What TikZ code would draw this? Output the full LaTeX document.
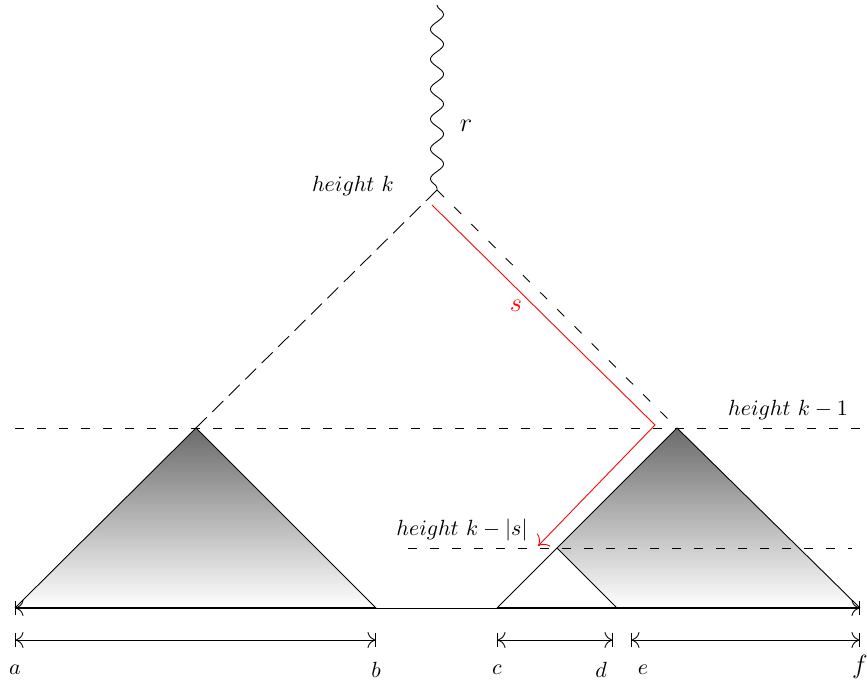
\documentclass[tikz,border=0pt]{standalone}
\usepackage{amsmath,amssymb}
\usepackage{xcolor}
\usepackage{tikz}
\usetikzlibrary{arrows.meta,positioning,decorations.pathmorphing}
\tikzset{
  lbl/.style={inner sep=1pt, font=\normalsize},
  big/.style={inner sep=1pt, font=\large},
  lvl/.style={dash pattern=on 4pt off 6pt},
  longdash/.style={dash pattern=on 7pt off 3.5pt},
  shortdash/.style={dash pattern=on 4.5pt off 6.5pt},
  shd/.style={top color=black!58, bottom color=white, draw=none},
  span/.style={{Bar[width=6pt]Computer Modern Rightarrow[scale=1.4]}-{Computer Modern Rightarrow[scale=1.4]Bar[width=6pt]}, thin},
  path/.style={red, -{Computer Modern Rightarrow[scale=1.6]}, thin},
  wave/.style={decorate, decoration={snake, segment length=13.6pt, amplitude=3pt}},
}

\begin{document}
\begin{tikzpicture}[x=0.4545pt, y=-0.4545pt]
\useasboundingbox (0,0) rectangle (867,686);
% key points
\coordinate (top) at (437,5);
\coordinate (apex) at (437,190);
\coordinate (la) at (196,428);
\coordinate (ll) at (15,608);
\coordinate (lr) at (376,608);
\coordinate (ra) at (677,428);
\coordinate (rl) at (497,608);
\coordinate (rm) at (557,548);
\coordinate (rf) at (617,608);
\coordinate (rr) at (860,608);
\coordinate (s0) at (432,205);
\coordinate (s1) at (655,425);
\coordinate (s2) at (538,546);
% shaded subtrees
\fill[shd] (la) -- (ll) -- (lr) -- cycle;
\fill[shd] (ra) -- (rm) -- (rf) -- (rr) -- cycle;
\draw (ll) -- (la) -- (lr);
\draw (rl) -- (ra) -- (rr);
\draw (rm) -- (rf);
\draw[semithick] (ll) -- (lr);
\draw[semithick] (rl) -- (rr);
\draw[span] (ll) -- (rr);
% levels
\coordinate (h1a) at (15,428);  \coordinate (h1b) at (862,428);
\coordinate (h2a) at (408,548); \coordinate (h2b) at (852,548);
\draw[lvl] (h1a) -- (h1b);
\draw[lvl] (h2a) -- (h2b);
\draw[longdash] (apex) -- (la);
\draw[shortdash] (apex) -- (ra);
\draw[wave] (top) -- (apex);
\draw[path] (s0) -- (s1) -- (s2);
\node[big, red] (s) at (516,306) {$s$};
% labels
\node[big] (r) at (466,126) {$r$};
\node[lbl] (hk) at (353,186) {$height\ k$};
\node[lbl] (hk1) at (788,410) {$height\ k-1$};
\node[lbl] (hks) at (462,530) {$height\ k-|s|$};
% intervals
\coordinate (a0) at (15,640);  \coordinate (b0) at (376,640);
\coordinate (c0) at (497,640); \coordinate (d0) at (613,640);
\coordinate (e0) at (631,640); \coordinate (f0) at (860,640);
\draw[span] (a0) -- (b0);
\draw[span] (c0) -- (d0);
\draw[span] (e0) -- (f0);
\node[lbl] (a) at (15,670) {$a$};
\node[lbl] (b) at (376,670) {$b$};
\node[lbl] (c) at (497,670) {$c$};
\node[lbl] (d) at (601,670) {$d$};
\node[lbl] (e) at (643,670) {$e$};
\node[big] (f) at (860,667) {$f$};
\end{tikzpicture}
\end{document}
